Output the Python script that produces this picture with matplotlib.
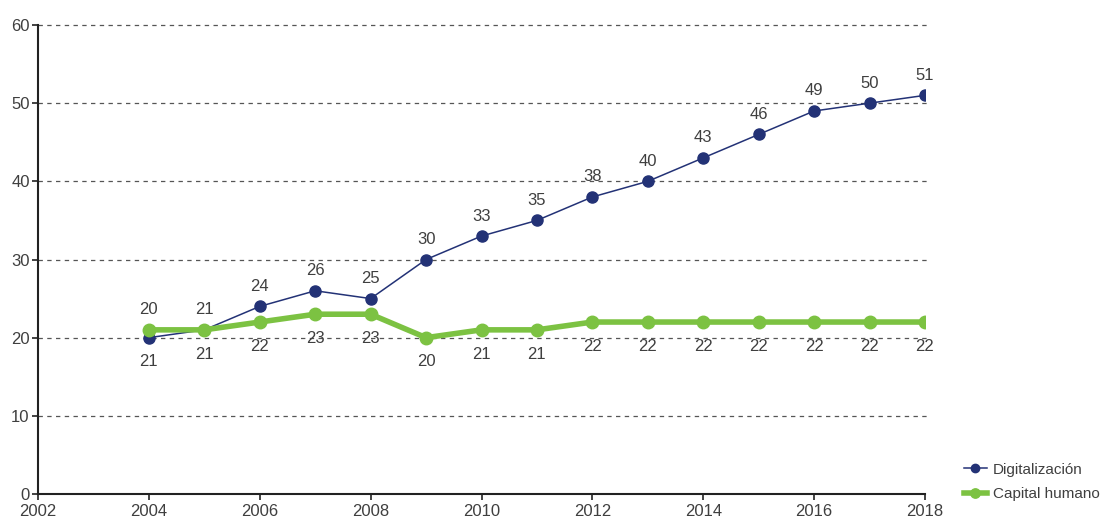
import matplotlib
matplotlib.use("Agg")
import matplotlib.pyplot as plt
from matplotlib import font_manager

years = [2004, 2005, 2006, 2007, 2008, 2009, 2010, 2011, 2012, 2013, 2014, 2015, 2016, 2017, 2018]
digitalizacion = [20, 21, 24, 26, 25, 30, 33, 35, 38, 40, 43, 46, 49, 50, 51]
capital_humano = [21, 21, 22, 23, 23, 20, 21, 21, 22, 22, 22, 22, 22, 22, 22]
series_names = ["Digitalización", "Capital humano"]
x_ticks = [2002, 2004, 2006, 2008, 2010, 2012, 2014, 2016, 2018]
y_ticks = [0, 10, 20, 30, 40, 50, 60]

names = {f.name for f in font_manager.fontManager.ttflist}
fam = ["Liberation Sans Narrow", "DejaVu Sans"] if "Liberation Sans Narrow" in names else ["Liberation Sans", "DejaVu Sans"]
plt.rcParams['font.family'] = fam

text_c = "#3f3f3f"
blue = "#233276"
green = "#7cc242"

fig = plt.figure(figsize=(11.15, 5.25), dpi=100)
ax = fig.add_axes([38/1115, 31/525, (925-38)/1115, (494-25)/525])

ax.plot(years, digitalizacion, color=blue, lw=1.1, marker="o", ms=8, label=series_names[0], zorder=3)
ax.plot(years, capital_humano, color=green, lw=4, marker="o", ms=9, label=series_names[1], zorder=4)
for x, d, c in zip(years, digitalizacion, capital_humano):
    top = max(d, c)
    bot = min(d, c)
    ax.annotate(str(d), (x, top), xytext=(0, 9), textcoords="offset points",
                ha="center", va="bottom", fontsize=12, color=text_c)
    ax.annotate(str(c), (x, bot), xytext=(0, -12), textcoords="offset points",
                ha="center", va="top", fontsize=12, color=text_c)

ax.set_xlim(2002, 2018)
ax.set_ylim(0, 60)
ax.set_xticks(x_ticks)
ax.set_yticks(y_ticks)
ax.tick_params(axis="both", labelsize=12, colors=text_c, length=4, width=1.2)
ax.tick_params(axis="x", labelcolor=text_c, color="#222222")
ax.tick_params(axis="y", labelcolor=text_c, color="#222222", pad=2)
for y in y_ticks[1:]:
    ax.axhline(y, color="#555555", lw=0.9, ls=(0, (3.5, 3.5)), zorder=1, clip_on=False,
               xmin=0, xmax=1.005)
ax.spines["top"].set_visible(False)
ax.spines["right"].set_visible(False)
ax.spines["left"].set_color("#222222")
ax.spines["bottom"].set_color("#222222")
ax.spines["left"].set_linewidth(1.5)
ax.spines["bottom"].set_linewidth(1.5)

handles, labels = ax.get_legend_handles_labels()
leg = fig.legend(handles, labels, loc="lower left", bbox_to_anchor=(950/1115, 10/525),
                 frameon=False, fontsize=11, handlelength=1.5, handletextpad=0.4, labelspacing=0.7,
                 markerscale=0.75)
for t in leg.get_texts():
    t.set_color(text_c)

fig.savefig("out.png", dpi=100)
